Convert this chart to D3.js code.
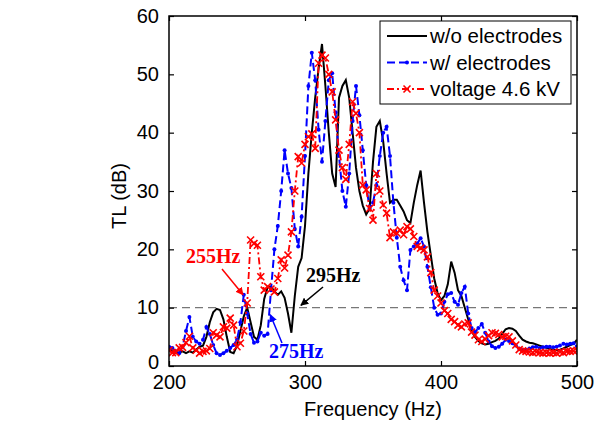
<!DOCTYPE html>
<html>
<head>
<meta charset="utf-8">
<script src="https://cdn.jsdelivr.net/npm/d3@7"></script>
<style>
  body { margin: 0; background: #fff; }
  text { font-family: "Liberation Sans", Arial, sans-serif; }
</style>
</head>
<body>
<div id="grafico"></div>
<script>
// frequenze (Hz), passo 2.5
const freq = [200, 202.5, 205, 207.5, 210, 212.5, 215, 217.5, 220, 222.5, 225, 227.5, 230, 232.5, 235, 237.5,
  240, 242.5, 245, 247.5, 250, 252.5, 255, 257.5, 260, 262.5, 265, 267.5, 270, 272.5, 275, 277.5,
  280, 282.5, 285, 287.5, 290, 292.5, 295, 297.5, 300, 302.5, 305, 307.5, 310, 312.5, 315, 317.5,
  320, 322.5, 325, 327.5, 330, 332.5, 335, 337.5, 340, 342.5, 345, 347.5, 350, 352.5, 355, 357.5,
  360, 362.5, 365, 367.5, 370, 372.5, 375, 377.5, 380, 382.5, 385, 387.5, 390, 392.5, 395, 397.5,
  400, 402.5, 405, 407.5, 410, 412.5, 415, 417.5, 420, 422.5, 425, 427.5, 430, 432.5, 435, 437.5,
  440, 442.5, 445, 447.5, 450, 452.5, 455, 457.5, 460, 462.5, 465, 467.5, 470, 472.5, 475, 477.5,
  480, 482.5, 485, 487.5, 490, 492.5, 495, 497.5, 500];

// w/o electrodes
const tlNoElectrodes = [3, 2.5, 2.2, 2.3, 2.5, 2.2, 2.5, 2.3, 2.8, 3.3, 3.5, 5, 7.5, 9.2, 9.8, 9.6,
  8, 5, 2.4, 2.2, 3.5, 6, 8.5, 10, 7.5, 5, 4.5, 7, 11.5, 13.5, 13.6, 12.8,
  12.2, 12.8, 11.7, 9, 5.7, 12, 17, 18.5, 24, 33, 40, 46, 51, 55.2, 48, 40,
  33, 30.7, 46, 48, 49, 46, 40, 34, 30, 27.5, 26, 27, 35, 41, 42, 38.5,
  33, 28, 28.5, 28.5, 27.5, 26.5, 25, 24.5, 28, 31, 33.5, 28, 23, 19, 15, 12.5,
  11.3, 12, 14, 17.9, 16, 13, 12, 10, 8, 6, 5, 4.3, 3.9, 3.7, 3.8, 4.1,
  4.3, 4.7, 5.5, 6.3, 6.5, 6.4, 6, 5.2, 4.5, 4.2, 4, 3.9, 3.7, 3.5, 3.3, 3.1,
  2.9, 2.8, 2.7, 2.8, 3, 3.3, 3.6, 3.8, 4.5];

// w/ electrodes
const tlElectrodes = [3.3, 3.1, 2.5, 2.2, 3.3, 6, 8.4, 5, 4.2, 3.8, 4.5, 6.7, 5.5, 3.6, 2.2, 1.9,
  2.2, 2.6, 3.1, 3.6, 4.5, 7.5, 12.2, 9, 5.5, 4, 4.2, 5.7, 5.2, 5.5, 13, 20,
  24, 30, 37, 33, 30.5, 23.5, 20.5, 25.6, 36, 48, 53.7, 49, 40.5, 35, 42, 49,
  50.2, 43.5, 36, 30, 27.3, 33, 42, 48, 43, 37, 31, 27, 28, 31, 36, 40,
  41, 36, 28, 22, 17, 14.7, 13, 19.9, 20.5, 21, 21.9, 20.5, 17, 13.5, 10, 8.8,
  9, 11, 12.3, 12.5, 11, 10.5, 12.5, 13.6, 9, 6.5, 5.8, 6.5, 7.2, 5.7, 4.2, 3.4,
  3.1, 3.3, 3.8, 4.5, 4.3, 3.9, 3.5, 3, 2.7, 2.8, 3, 3.2, 3.3, 3.1, 3.2, 3.3,
  3.3, 3.2, 3.3, 3.5, 3.8, 3.7, 3.8, 3.9, 3.3];

// voltage 4.6 kV
const tlVoltage = [2.7, 2.3, 2.3, 3.1, 3.2, 4, 5.1, 3.1, 2.7, 2.2, 2.5, 2.6, 3, 5.7, 5.3, 5,
  6.7, 6.5, 8.2, 7, 3.3, 3.9, 6, 10.8, 21.6, 21, 20.7, 15.3, 13, 13.6, 13.2, 12.7,
  15, 18.2, 16.8, 19, 23, 30, 35.9, 34.8, 38, 39.3, 39.8, 37.3, 51.9, 53.3, 52.8, 50,
  47, 42.2, 37, 34, 32, 38, 45.3, 43.3, 40, 31, 30.2, 27, 25, 33, 30, 27.6,
  26.2, 22, 23, 22.8, 23.3, 22.5, 23.9, 23.5, 22.2, 20.5, 20.2, 19.9, 18.7, 16, 13, 12,
  10.8, 9.5, 9, 8, 7.6, 7, 6.7, 7.2, 7.4, 5.8, 5.3, 4.5, 4.2, 4.6, 5.2, 5.7,
  5.6, 5.4, 5, 5.1, 5, 4.3, 3.6, 2.8, 2.6, 2.5, 2.4, 2.3, 2.4, 2.3, 2.2, 2.3,
  2.2, 2.3, 2.2, 2.4, 2.3, 2.5, 2.5, 2.6, 2.7];

const seriesNames = ["w/o electrodes", "w/ electrodes", "voltage 4.6 kV"];
const xTicks = [200, 300, 400, 500];
const yTicks = [0, 10, 20, 30, 40, 50, 60];
const threshold = 10;

// annotazioni: testo, frequenza e valore della punta della freccia
const noteLabels = ["255Hz", "275Hz", "295Hz"];
const noteTipFreq = [254.5, 274.5, 297];
const noteTipTL = [12.2, 8.8, 10.4];

// dimensioni
const width = 600, height = 424;
const margin = { left: 169, right: 23, top: 16, bottom: 58 };
const innerW = width - margin.left - margin.right;
const innerH = height - margin.top - margin.bottom;

const svg = d3.select("#grafico")
  .append("svg")
  .attr("width", width)
  .attr("height", height);

const x = d3.scaleLinear().domain([200, 500]).range([margin.left, margin.left + innerW]);
const y = d3.scaleLinear().domain([0, 60]).range([margin.top + innerH, margin.top]);

// frecce
const defs = svg.append("defs");
[["arrRed", "#ff0000"], ["arrBlue", "#0000ff"], ["arrBlack", "#000"]].forEach(([id, c]) => {
  defs.append("marker")
    .attr("id", id)
    .attr("viewBox", "0 0 10 10")
    .attr("refX", 9).attr("refY", 5)
    .attr("markerWidth", 8).attr("markerHeight", 8)
    .attr("markerUnits", "userSpaceOnUse")
    .attr("orient", "auto")
    .append("path")
    .attr("d", "M0,0 L10,5 L0,10 z")
    .attr("fill", c);
});

defs.append("clipPath").attr("id", "plotClip")
  .append("rect")
  .attr("x", margin.left).attr("y", margin.top)
  .attr("width", innerW).attr("height", innerH);

// linea tratteggiata a 10 dB
svg.append("line")
  .attr("x1", x(200)).attr("x2", x(500))
  .attr("y1", y(threshold)).attr("y2", y(threshold))
  .attr("stroke", "#777")
  .attr("stroke-width", 1.3)
  .attr("stroke-dasharray", "8,5");

const plot = svg.append("g").attr("clip-path", "url(#plotClip)");

const line = d3.line()
  .x((d, i) => x(freq[i]))
  .y(d => y(d));

// serie nera
plot.append("path")
  .attr("d", line(tlNoElectrodes))
  .attr("fill", "none")
  .attr("stroke", "#000")
  .attr("stroke-width", 2);

// serie blu
plot.append("path")
  .attr("d", line(tlElectrodes))
  .attr("fill", "none")
  .attr("stroke", "#0000ff")
  .attr("stroke-width", 2)
  .attr("stroke-dasharray", "8,4");

plot.selectAll(".bluDot")
  .data(tlElectrodes)
  .enter().append("circle")
  .attr("cx", (d, i) => x(freq[i]))
  .attr("cy", d => y(d))
  .attr("r", 2)
  .attr("fill", "#0000ff");

// serie rossa
plot.append("path")
  .attr("d", line(tlVoltage))
  .attr("fill", "none")
  .attr("stroke", "#ff0000")
  .attr("stroke-width", 1.8)
  .attr("stroke-dasharray", "7,3,2,3");

function cross(g, cx, cy, s) {
  g.append("path")
    .attr("d", `M${cx - s},${cy - s}L${cx + s},${cy + s}M${cx - s},${cy + s}L${cx + s},${cy - s}`)
    .attr("stroke", "#ff0000")
    .attr("stroke-width", 1.6)
    .attr("fill", "none");
}
tlVoltage.forEach((d, i) => cross(plot, x(freq[i]), y(d), 3.5));

// cornice e tacche
svg.append("rect")
  .attr("x", margin.left).attr("y", margin.top)
  .attr("width", innerW).attr("height", innerH)
  .attr("fill", "none")
  .attr("stroke", "#000")
  .attr("stroke-width", 1.5);

const axB = svg.append("g")
  .attr("transform", `translate(0,${margin.top + innerH})`)
  .call(d3.axisBottom(x).tickValues(xTicks).tickSize(-5).tickPadding(9).tickFormat(d3.format("d")));
const axT = svg.append("g")
  .attr("transform", `translate(0,${margin.top})`)
  .call(d3.axisTop(x).tickValues(xTicks).tickSize(-5).tickFormat(""));
const axL = svg.append("g")
  .attr("transform", `translate(${margin.left},0)`)
  .call(d3.axisLeft(y).tickValues(yTicks).tickSize(-5).tickPadding(10));
const axR = svg.append("g")
  .attr("transform", `translate(${margin.left + innerW},0)`)
  .call(d3.axisRight(y).tickValues(yTicks).tickSize(-5).tickFormat(""));

[axB, axT, axL, axR].forEach(a => {
  a.select(".domain").remove();
  a.selectAll(".tick line").attr("stroke", "#000").attr("stroke-width", 1.2);
  a.selectAll("text")
    .attr("fill", "#000")
    .style("font-size", "20px")
    .style("font-family", "'Liberation Sans', Arial, sans-serif");
});
axB.selectAll("text").attr("dy", "0.71em");
axL.selectAll("text").attr("dy", d => d === 0 ? "0.12em" : "0.3em");

// titoli assi
svg.append("text")
  .attr("x", x(350))
  .attr("y", 416)
  .attr("text-anchor", "middle")
  .style("font-size", "20px")
  .text("Frequency (Hz)");

svg.append("text")
  .attr("transform", "translate(126,196) rotate(-90)")
  .attr("text-anchor", "middle")
  .style("font-size", "20px")
  .text("TL (dB)");

// annotazioni
const noteColors = ["#ff0000", "#0000ff", "#000"];
const noteMarkers = ["arrRed", "arrBlue", "arrBlack"];
const noteText = [[186, 263], [269, 358], [306, 282]];
const noteStart = [[222, 269], [282, 343], [323, 287]];

noteLabels.forEach((t, i) => {
  svg.append("text")
    .attr("x", noteText[i][0])
    .attr("y", noteText[i][1])
    .attr("fill", noteColors[i])
    .style("font-family", "'Liberation Serif', 'Times New Roman', serif")
    .style("font-weight", "bold")
    .style("font-size", "20px")
    .text(t);
  svg.append("line")
    .attr("x1", noteStart[i][0]).attr("y1", noteStart[i][1])
    .attr("x2", x(noteTipFreq[i])).attr("y2", y(noteTipTL[i]))
    .attr("stroke", noteColors[i])
    .attr("stroke-width", 1.5)
    .attr("marker-end", `url(#${noteMarkers[i]})`);
});

// legenda
const legend = svg.append("g");
legend.append("rect")
  .attr("x", 380).attr("y", 21)
  .attr("width", 191).attr("height", 83)
  .attr("fill", "#fff")
  .attr("stroke", "#000")
  .attr("stroke-width", 1);

const legColors = ["#000", "#0000ff", "#ff0000"];
const legDash = [null, "8,4", "7,3,2,3"];
seriesNames.forEach((name, i) => {
  const ly = 36 + i * 26.5;
  legend.append("line")
    .attr("x1", 387).attr("x2", 427)
    .attr("y1", ly).attr("y2", ly)
    .attr("stroke", legColors[i])
    .attr("stroke-width", 1.8)
    .attr("stroke-dasharray", legDash[i]);
  if (i === 1) {
    legend.append("circle").attr("cx", 407).attr("cy", ly).attr("r", 2).attr("fill", "#0000ff");
  }
  if (i === 2) cross(legend, 407, ly, 3.5);
  legend.append("text")
    .attr("x", 430)
    .attr("y", ly)
    .attr("dy", "0.35em")
    .style("font-size", "20.5px")
    .text(name);
});
</script>
</body>
</html>
